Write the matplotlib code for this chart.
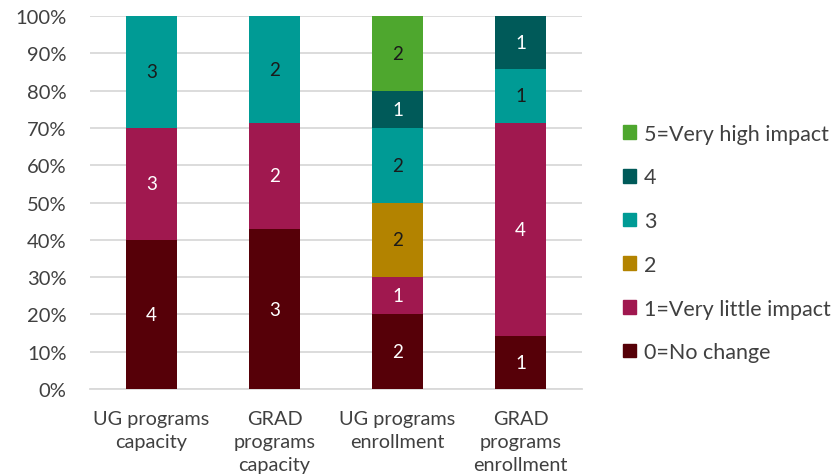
import matplotlib
matplotlib.use("Agg")
import matplotlib.pyplot as plt
from matplotlib.patches import Patch
from matplotlib.ticker import PercentFormatter

categories = ["UG programs\ncapacity", "GRAD\nprograms\ncapacity",
              "UG programs\nenrollment", "GRAD\nprograms\nenrollment"]
levels = ["0=No change", "1=Very little impact", "2", "3", "4", "5=Very high impact"]
counts = {
    "0=No change":          [4, 3, 2, 1],
    "1=Very little impact": [3, 2, 1, 4],
    "2":                    [0, 0, 2, 0],
    "3":                    [3, 2, 2, 1],
    "4":                    [0, 0, 1, 1],
    "5=Very high impact":   [0, 0, 2, 0],
}
colors = ["#560008", "#A0184F", "#B38300", "#009B95", "#005A59", "#4EA72E"]
label_colors = ["white", "white", "#1a1a1a", "#1a1a1a", "white", "#1a1a1a"]

plt.rcParams['font.family'] = ['Lato', 'DejaVu Sans']

totals = [sum(counts[l][i] for l in levels) for i in range(len(categories))]

fig = plt.figure(figsize=(8.4, 4.77), dpi=100)
ax = fig.add_axes([90 / 840, 1 - 390 / 477, (582 - 90) / 840, (390 - 17) / 477])

x = range(len(categories))
bottom = [0.0] * len(categories)
for lvl, col, tc in zip(levels, colors, label_colors):
    vals = counts[lvl]
    frac = [v / t for v, t in zip(vals, totals)]
    ax.bar(x, frac, width=0.41, bottom=bottom, color=col, zorder=3)
    for i, (v, f) in enumerate(zip(vals, frac)):
        if v > 0:
            ax.text(i, bottom[i] + f / 2, str(v), ha="center", va="center",
                    color=tc, fontsize=13.5, zorder=4)
    bottom = [b + f for b, f in zip(bottom, frac)]

ax.set_xlim(-0.5, 3.5)
ax.set_ylim(0, 1)
ax.set_yticks([i / 10 for i in range(11)])
ax.yaxis.set_major_formatter(PercentFormatter(1.0, decimals=0))
ax.set_xticks(list(x))
ax.set_xticklabels(categories, fontsize=14.3, color="#404040", linespacing=1.42)
ax.tick_params(axis="y", labelsize=14.5, labelcolor="#404040", length=0, pad=17)
ax.tick_params(axis="x", length=0, pad=15)
ax.grid(axis="y", color="#d9d9d9", lw=1.3, zorder=0)
for sp in ["top", "right", "left"]:
    ax.spines[sp].set_visible(False)
ax.spines["bottom"].set_color("#d9d9d9")
ax.spines["bottom"].set_linewidth(1.3)

handles = [Patch(color=c, label=l) for l, c in zip(levels, colors)][::-1]
fig.legend(handles=handles, loc="center left", bbox_to_anchor=(604 / 840, 1 - 244 / 477),
           frameon=False, fontsize=15.5, labelcolor="#404040", handlelength=0.6,
           handleheight=0.6, handletextpad=0.35, labelspacing=1.1)

fig.savefig("out.png", dpi=100)
